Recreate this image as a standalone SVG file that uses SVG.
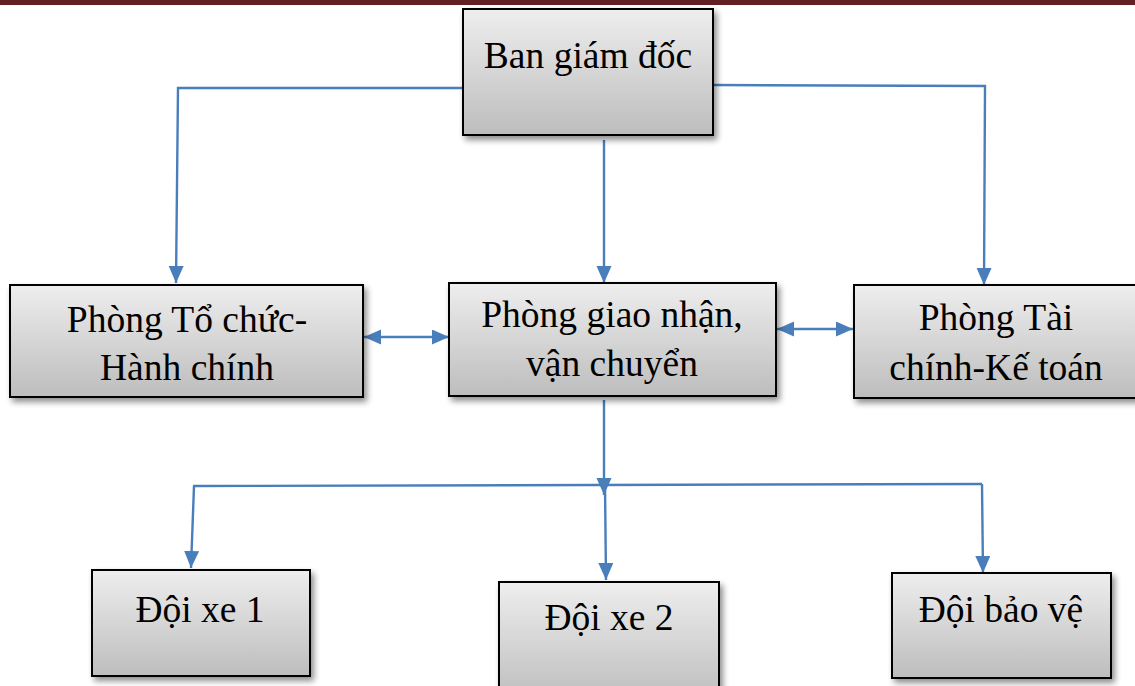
<svg xmlns="http://www.w3.org/2000/svg" width="1135" height="686" viewBox="0 0 1135 686">
<defs>
<linearGradient id="g" x1="0" y1="0" x2="0" y2="1">
<stop offset="0" stop-color="#eeeeee"/>
<stop offset="1" stop-color="#bdbdbd"/>
</linearGradient>
<filter id="sh" x="-10%" y="-10%" width="130%" height="140%">
<feGaussianBlur in="SourceAlpha" stdDeviation="3"/>
<feOffset dx="3" dy="4" result="b"/>
<feComponentTransfer><feFuncA type="linear" slope="0.45"/></feComponentTransfer>
<feMerge><feMergeNode/><feMergeNode in="SourceGraphic"/></feMerge>
</filter>
<marker id="ah" markerUnits="userSpaceOnUse" markerWidth="20" markerHeight="16" refX="17" refY="7.5" orient="auto-start-reverse">
<path d="M0,0 L17,7.5 L0,15 Z" fill="#4a7ebb"/>
</marker>
</defs>
<style>
.box{fill:url(#g);stroke:#000;stroke-width:2;filter:url(#sh)}
.t{font-family:"Liberation Serif","Times New Roman",serif;font-size:37.5px;fill:#000;text-anchor:middle}
.c{fill:none;stroke:#4a7ebb;stroke-width:2.4}
</style>
<rect x="0" y="0" width="1135" height="5" fill="#632024"/>
<g id="connectors">
<polyline class="c" points="463,88 178,88 176,283" marker-end="url(#ah)"/>
<polyline class="c" points="713,85 985,86 984,285" marker-end="url(#ah)"/>
<line class="c" x1="604" y1="140" x2="604" y2="283" marker-end="url(#ah)"/>
<line class="c" x1="364" y1="337" x2="449" y2="337" marker-start="url(#ah)" marker-end="url(#ah)"/>
<line class="c" x1="777" y1="329" x2="853" y2="329" marker-start="url(#ah)" marker-end="url(#ah)"/>
<line class="c" x1="604" y1="400" x2="604" y2="495" marker-end="url(#ah)"/>
<line class="c" x1="193" y1="486" x2="982" y2="484"/>
<line class="c" x1="194" y1="486" x2="191" y2="568" marker-end="url(#ah)"/>
<line class="c" x1="605" y1="485" x2="606" y2="580" marker-end="url(#ah)"/>
<line class="c" x1="982" y1="484" x2="983" y2="573" marker-end="url(#ah)"/>
</g>
<g id="ban-giam-doc">
<rect class="box" x="463" y="9" width="250" height="126"/>
<text class="t" x="588" y="68">Ban giám đốc</text>
</g>
<g id="phong-to-chuc">
<rect class="box" x="10" y="285" width="353" height="112"/>
<text class="t" x="187" y="332">Phòng Tổ chức-</text>
<text class="t" x="187" y="380">Hành chính</text>
</g>
<g id="phong-giao-nhan">
<rect class="box" x="449" y="283" width="327" height="113"/>
<text class="t" x="612" y="327">Phòng giao nhận,</text>
<text class="t" x="612" y="376">vận chuyển</text>
</g>
<g id="phong-tai-chinh">
<rect class="box" x="854" y="285" width="290" height="113"/>
<text class="t" x="996" y="330">Phòng Tài</text>
<text class="t" x="996" y="380">chính-Kế toán</text>
</g>
<g id="doi-xe-1">
<rect class="box" x="92" y="570" width="218" height="106"/>
<text class="t" x="200" y="622">Đội xe 1</text>
</g>
<g id="doi-xe-2">
<rect class="box" x="499" y="582" width="220" height="120"/>
<text class="t" x="609" y="630">Đội xe 2</text>
</g>
<g id="doi-bao-ve">
<rect class="box" x="892" y="573" width="219" height="105"/>
<text class="t" x="1001" y="622">Đội bảo vệ</text>
</g>
</svg>
